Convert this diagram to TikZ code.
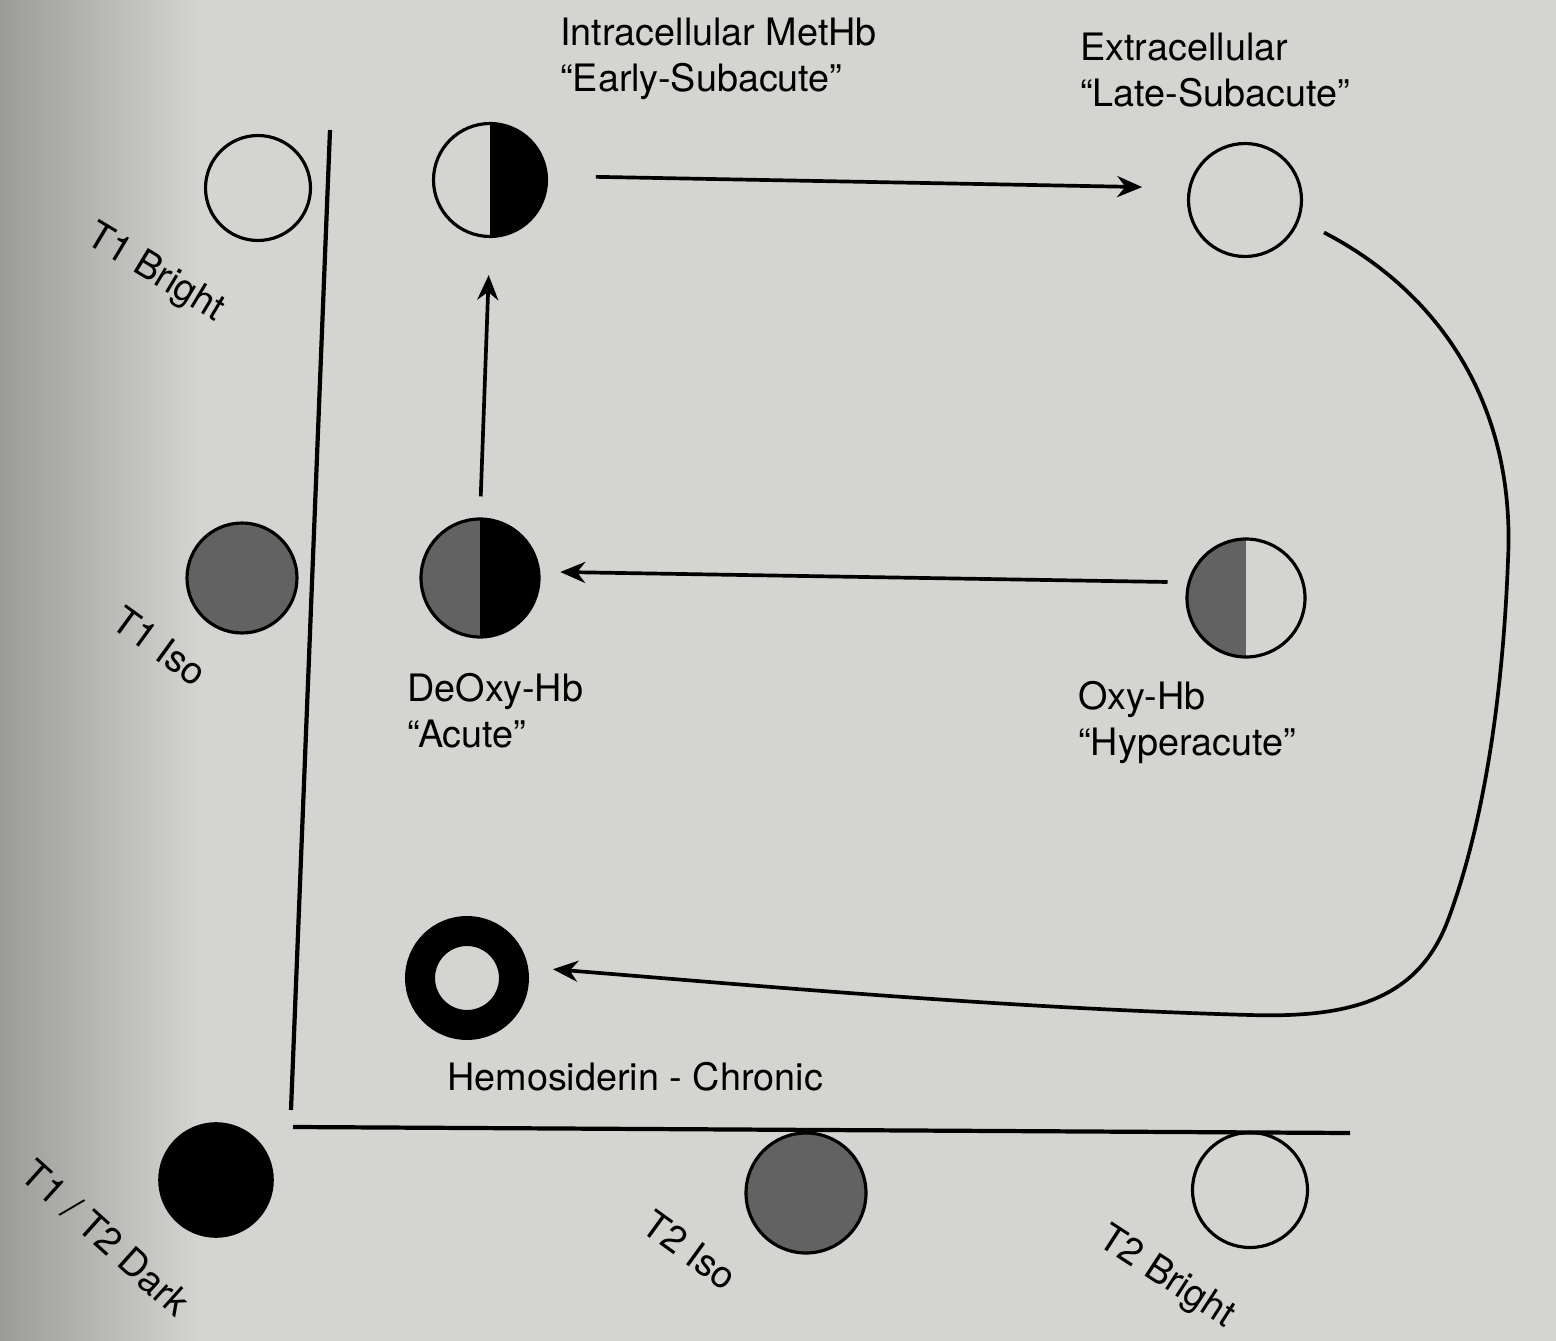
\documentclass[tikz,border=0pt]{standalone}
\usepackage{fontspec}
\setmainfont{TeX Gyre Heros}
\usetikzlibrary{arrows.meta}
\definecolor{paper}{RGB}{212,213,208}
\definecolor{paperdark}{RGB}{155,155,151}
\definecolor{halftone}{RGB}{98,98,98}
\begin{document}
\begin{tikzpicture}[x=0.02cm,y=-0.02cm,
  lbl/.style={font=\fontsize{21.5}{26}\selectfont, inner sep=0pt, align=left},
  tag/.style={font=\fontsize{21.5}{26}\selectfont, inner sep=0pt},
  disc/.style={circle, draw=black, line width=1.8pt, inner sep=0pt, minimum size=#1},
  axis/.style={line width=2.4pt},
  arr/.style={line width=2.1pt, -{Stealth[length=0.5cm,width=0.42cm]}},
  righthalf/.style={path picture={\fill[#1] (path picture bounding box.north) rectangle (path picture bounding box.south east);}},
  lefthalf/.style={path picture={\fill[#1] (path picture bounding box.south west) rectangle (path picture bounding box.north);}}
]
% paper background, darker towards the left edge
\fill[paper] (0,0) rectangle (1556,1341);
\shade[left color=paperdark, right color=paper] (0,0) rectangle (200,1341);
\useasboundingbox (0,0) rectangle (1556,1341);

% axes
\draw[axis] (330,130) -- (291,1110);
\draw[axis] (293,1127) -- (1350,1133);

% signal-intensity reference discs
\node[disc=2.1cm] (t1bright) at (258,188) {};
\node[disc=2.2cm, fill=halftone] (t1iso) at (242,578) {};
\node[disc=2.25cm, fill=black] (dark) at (216,1180) {};
\node[disc=2.4cm, fill=halftone] (t2iso) at (806,1193) {};
\node[disc=2.3cm] (t2bright) at (1250,1190) {};

\node[tag, rotate=-31] (lt1bright) at (155,274) {T1 Bright};
\node[tag, rotate=-36] (lt1iso) at (160,646) {T1 Iso};
\node[tag, rotate=-42] (ldark) at (106,1238) {T1 / T2 Dark};
\node[tag, rotate=-36] (lt2iso) at (690,1250) {T2 Iso};
\node[tag, rotate=-33] (lt2bright) at (1166,1278) {T2 Bright};

% hemoglobin stages
\node[disc=2.26cm, righthalf=black] (meth) at (490,180) {};
\node[disc=2.26cm] (extra) at (1245,200) {};
\node[disc=2.36cm, fill=halftone, righthalf=black] (deoxy) at (480,578) {};
\node[disc=2.36cm, lefthalf=halftone] (oxy) at (1246,598) {};
\node[circle, draw=black, line width=0.6cm, inner sep=0pt, minimum size=1.88cm] (hemo) at (467,978) {};

\node[lbl, anchor=north west] (lmeth) at (560,18) {Intracellular MetHb\\“Early-Subacute”};
\node[lbl, anchor=north west] (lextra) at (1080,33) {Extracellular\\“Late-Subacute”};
\node[lbl, anchor=north west] (ldeoxy) at (407,673) {DeOxy-Hb\\“Acute”};
\node[lbl, anchor=north west] (loxy) at (1078,681) {Oxy-Hb\\“Hyperacute”};
\node[tag, anchor=base west] (lhemo) at (447,1090) {Hemosiderin - Chronic};

% transitions
\draw[arr, shorten <=0.96cm, shorten >=0.92cm] (meth.4) -- (extra.168);
\draw[arr, shorten <=0.42cm, shorten >=0.74cm] (deoxy.north) -- (meth.south);
\draw[arr, shorten <=0.4cm, shorten >=0.4cm] (oxy.165) -- (deoxy.6);
\draw[arr, shorten <=0.55cm, shorten >=0.5cm] (extra.-20)
  .. controls (1435,290) and (1516,400) .. (1508,560)
  .. controls (1502,720) and (1478,840) .. (1448,920)
  .. controls (1418,1000) and (1350,1018) .. (1250,1015)
  .. controls (1000,1008) and (750,985) .. (hemo.10);
\end{tikzpicture}
\end{document}
